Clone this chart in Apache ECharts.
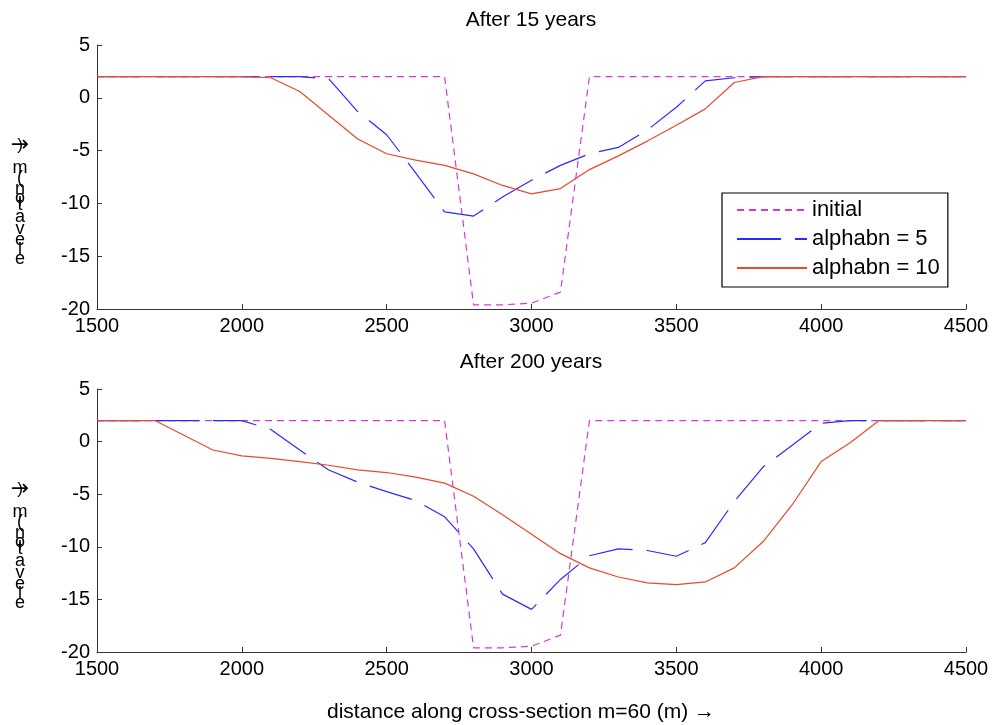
<!DOCTYPE html>
<html><head><meta charset="utf-8">
<script src="https://cdn.jsdelivr.net/npm/echarts@6/dist/echarts.min.js"></script>
<style>html,body{margin:0;padding:0;background:#fff}#c{width:996px;height:725px}</style>
</head><body><div id="c"></div>
<script>
const distance = [1500,1600,1700,1800,1900,2000,2100,2200,2300,2400,2500,2600,2700,2800,2900,3000,3100,3200,3300,3400,3500,3600,3700,3800,3900,4000,4100,4200,4300,4400,4500];
const initial = [2,2,2,2,2,2,2,2,2,2,2,2,2,-19.6,-19.6,-19.45,-18.4,2,2,2,2,2,2,2,2,2,2,2,2,2,2];
const top5 = [2,2,2,2,2,2,2,2,1.8,-1.3,-3.5,-7.1,-10.8,-11.2,-9.4,-7.8,-6.4,-5.3,-4.7,-3.05,-0.9,1.6,1.9,2,2,2,2,2,2,2,2];
const top10 = [2,2,2,2,2,2,1.9,0.6,-1.65,-3.9,-5.3,-5.9,-6.4,-7.2,-8.3,-9.1,-8.6,-6.8,-5.5,-4.1,-2.6,-1.05,1.45,2,2,2,2,2,2,2,2];
const bot5 = [2,2,2,2,2,2,1.15,-0.8,-2.7,-3.85,-4.75,-5.6,-7.15,-10.2,-14.5,-15.95,-13.1,-10.85,-10.2,-10.35,-10.9,-9.6,-5.7,-2.4,-0.35,1.75,2,2,2,2,2];
const bot10 = [2,2,2,0.6,-0.8,-1.36,-1.6,-1.9,-2.25,-2.68,-2.94,-3.38,-3.95,-5.2,-6.95,-8.8,-10.65,-12.0,-12.87,-13.43,-13.6,-13.34,-12.0,-9.5,-6.0,-1.9,-0.1,2,2,2,2];
const seriesNames = ['initial','alphabn = 5','alphabn = 10'];
const titles = ['After 15 years','After 200 years'];
const xLabel = 'distance along cross-section m=60 (m) \u2192';
const yLabelChars = ['\u2192',')','m','(','n','o','i','t','a','v','e','l','e'];

const FONT = 'Liberation Sans, Arial, sans-serif';
const colors = ['#d63ad6','#2a2aff','#e84a2a'];
const styles = [[7,5],[44,14],'solid'];

function pair(a){ return distance.map((d,i)=>[d,a[i]]); }

const grids = [
  {left:97, top:45, width:869, height:264},
  {left:97, top:389, width:869, height:263}
];
function axisBase(){
  return {
    axisLine:{show:true,onZero:false,lineStyle:{color:'#333',width:1}},
    axisTick:{show:true,inside:true,length:5,lineStyle:{color:'#333'}},
    splitLine:{show:false},
    axisLabel:{color:'#000',fontSize:20,fontFamily:FONT,formatter:v=>String(v)}
  };
}
const xAxes = [0,1].map(i=>{const a=axisBase();a.type='value';a.gridIndex=i;a.min=1500;a.max=4500;a.interval=500;a.axisLabel.margin=7;return a;});
const yAxes = [0,1].map(i=>{const a=axisBase();a.type='value';a.gridIndex=i;a.min=-20;a.max=5;a.interval=5;a.axisLabel.margin=7;return a;});

const dataSets = [[initial,top5,top10],[initial,bot5,bot10]];
const series = [];
dataSets.forEach((set,g)=>{
  set.forEach((arr,k)=>{
    series.push({type:'line',name:seriesNames[k],xAxisIndex:g,yAxisIndex:g,data:pair(arr),
      symbol:'none',animation:false,silent:true,
      lineStyle:{color:colors[k],width:1.2,type:styles[k]},itemStyle:{color:colors[k]}});
  });
});

const offsets = [145,145,168,178,189,198,201,205,217,229,240,250,259];
const sizes = [22,17,18,18,18,18,18,18,18,18,18,18,18];
const fams = ['DejaVu Sans',FONT,FONT,FONT,FONT,FONT,FONT,FONT,FONT,FONT,FONT,FONT,FONT];
const graphics = [];
[0,344].forEach(dy=>{
  yLabelChars.forEach((ch,i)=>{
    graphics.push({type:'text',x:20,y:offsets[i]+dy,style:{text:ch,fill:'#000',font:sizes[i]+'px '+fams[i],textAlign:'center',textVerticalAlign:'middle'}});
  });
});
titles.forEach((t,i)=>{
  graphics.push({type:'text',x:531,y:i===0?20:362,style:{text:t,fill:'#000',font:'21px '+FONT,textAlign:'center',textVerticalAlign:'middle'}});
});
graphics.push({type:'text',x:521,y:712,style:{text:xLabel,fill:'#000',font:'21px '+FONT,textAlign:'center',textVerticalAlign:'middle'}});

const chart = echarts.init(document.getElementById('c'),null,{renderer:'canvas'});
chart.setOption({
  animation:false,
  backgroundColor:'#fff',
  grid:grids,
  xAxis:xAxes,
  yAxis:yAxes,
  legend:{data:seriesNames,orient:'vertical',left:722,top:193,
    backgroundColor:'#fff',borderColor:'#000',borderWidth:1.2,padding:[6,8,8,14],
    itemWidth:70,itemHeight:14,itemGap:7,selectedMode:false,
    itemStyle:{opacity:0},
    textStyle:{fontSize:22,fontFamily:FONT,color:'#000'}},
  series:series,
  graphic:graphics
});
</script></body></html>
